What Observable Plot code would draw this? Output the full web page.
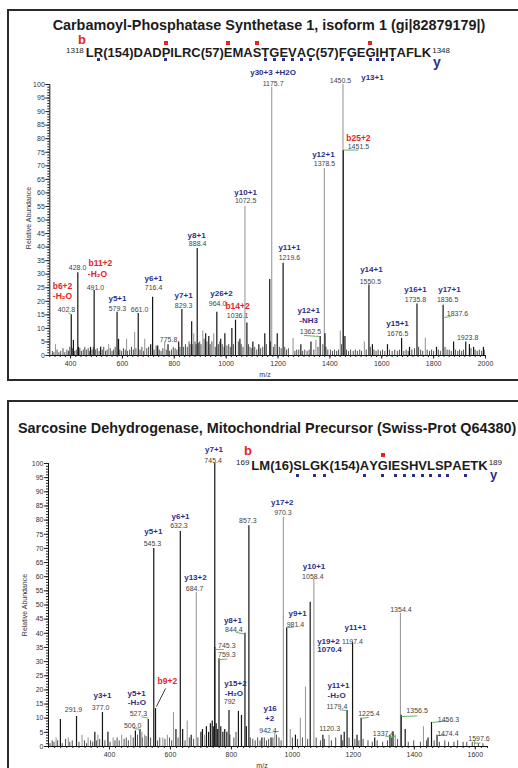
<!DOCTYPE html>
<html><head><meta charset="utf-8">
<script src="https://cdn.jsdelivr.net/npm/d3@7"></script>
<script src="https://cdn.jsdelivr.net/npm/@observablehq/plot@0.6"></script>
<style>
body{margin:0;background:#fff;width:518px;height:768px;overflow:hidden;position:relative;font-family:"Liberation Sans",Arial,sans-serif;}
.box{position:absolute;border:2px solid #2a2a2a;box-sizing:border-box;}
.abs{position:absolute;white-space:nowrap;}
.title{font-weight:bold;font-size:14.4px;line-height:14px;color:#1c1c1c;}
.seq{font-weight:bold;font-size:13px;line-height:9px;color:#1c1c1c;}
.sup{font-size:8px;font-weight:normal;position:relative;top:-4px;}
.m{position:relative;}
.sq{position:absolute;left:50%;width:4px;height:4px;margin-left:-2px;background:#e8231f;}
.dt{position:absolute;left:50%;width:3px;height:3px;margin-left:-1.5px;background:#2b2f8a;}
.ax{font-size:7px;color:#333;}
.rot{transform:translate(-50%,-50%) rotate(-90deg);}
.ion{font-weight:bold;line-height:1px;}
</style></head>
<body>
<div class="box" style="left:7px;top:9px;width:530px;height:372px;"></div>
<div class="box" style="left:7px;top:400px;width:530px;height:400px;"></div>
<script>
// ---------- Panel 1 data ----------
const topTitle = "Carbamoyl-Phosphatase Synthetase 1, isoform 1 (gi|82879179|)";
const topSeq = "LR(154)DADPILRC(57)EMASTGEVAC(57)FGEGIHTAFLK";
const topStart = "1318", topEnd = "1348";
const topSquares = [10, 19, 22, 36];
const topDots = [1, 10, 23, 24, 25, 26, 27, 28, 33, 34, 36, 37, 38, 39];
const topXTicks = [400, 600, 800, 1000, 1200, 1400, 1600, 1800, 2000];
const yTicks = [0,5,10,15,20,25,30,35,40,45,50,55,60,65,70,75,80,85,90,95,100];

const topDark = [[402.8,15],[411,5.5],[428.0,30.5],[431,3],[477,3],[491.0,24],[516,3],[579.3,16],[585,6],[661.0,15.5],[709,4],[716.4,21.5],[736,3.5],[775.8,4],[817,5],[829.3,17],[867,12.5],[888.4,39.5],[921,8],[933,7],[964.0,16],[979,6],[995,8],[1022,10],[1036.1,13],[1053,6],[1080,12],[1103,5],[1126,4],[1149,8],[1168,28],[1197,8],[1219.6,34],[1288,4],[1327,5],[1362.5,7],[1381,8],[1451.5,75.6],[1458,7],[1550.5,26],[1564,4],[1622,4],[1676.5,6.3],[1707,3],[1735.8,19],[1811,3],[1836.5,18.5],[1877,5],[1923.8,5],[1938,4],[1954,3],[1992,3]];
const topGrey = [[342,4],[547,4],[616,6],[647,8.5],[686,6],[763,5],[875,8],[910,9],[952,8],[1072.5,55],[1175.7,99],[1258,6.3],[1346,5.5],[1378.5,69],[1440,9],[1450.5,100],[1533,5],[1768,6.4]];
const topNoise = [[330,1.5],[336,1],[348,2],[355,1],[362,1.5],[371,2.5],[378,1],[386,2],[392,1.5],[397,3],[408,2.5],[416,1.5],[422,2],[436,2.5],[442,1.5],[449,2],[455,3],[461,2],[468,2.5],[474,1.5],[483,2],[488,3],[497,2],[503,2.5],[510,1.5],[522,2],[528,3],[535,1.5],[541,2],[553,2.5],[560,1.5],[566,2],[572,3],[590,2],[597,1.5],[604,2.5],[611,2],[620,1.5],[628,2],[635,3],[642,2],[652,2.5],[668,2],[675,3],[682,1.5],[694,2.5],[701,3],[722,2],[730,3.5],[742,2],[749,1.5],[756,2.5],[769,2],[782,1.5],[789,2],[796,3],[803,2.5],[810,2],[822,3],[836,3],[843,4],[850,3],[857,5],[861,4],[872,4],[880,5],[884,4],[893,4.5],[898,5],[903,4],[915,6],[926,5],[938,4],[945,5],[958,3],[970,4],[976,5],[985,4],[992,3],[1003,3.5],[1010,4],[1016,3],[1028,4],[1047,5],[1058,4],[1065,3],[1086,4],[1092,3],[1099,2.5],[1110,3],[1118,2],[1133,2.5],[1141,3],[1155,4],[1171,5],[1182,3],[1188,4],[1205,3],[1212,2.5],[1226,3],[1233,2],[1240,2.5],[1265,1.5],[1272,2],[1280,2],[1295,1.5],[1303,2],[1312,1.5],[1320,2],[1338,2],[1354,3],[1373,4],[1385,3],[1392,2],[1402,2],[1410,1.5],[1418,2],[1426,1.5],[1433,2],[1445,4],[1464,2],[1472,1.5],[1480,2],[1490,1.5],[1498,2],[1506,1.5],[1515,2],[1522,1.5],[1540,2],[1556,3],[1570,2],[1578,1.5],[1586,2],[1595,1.5],[1603,2],[1612,1.5],[1630,2],[1640,1.5],[1650,2],[1660,1.5],[1668,2],[1685,1.5],[1694,2],[1702,1.5],[1716,2],[1726,2.5],[1742,3],[1750,2],[1758,1.5],[1775,2],[1784,1.5],[1792,2],[1800,1.5],[1818,2],[1826,1.5],[1844,3],[1852,2],[1860,2],[1868,1.5],[1884,2],[1893,1.5],[1900,2],[1908,1.5],[1915,2],[1944,2.5],[1960,2],[1968,1.5],[1976,2],[1985,1.5],[1995,2]];

const topIon = [["y30+3 +H2O",1181,104.3],["y13+1",1564,102.6],["y10+1",1075,60.1],["y8+1",886,44.3],["y12+1",1375,74.2],["y11+1",1244,39.9],["y14+1",1560,31.7],["y16+1",1730,24.4],["y17+1",1861,24.4],["y12+1",1318,16.6],["-NH3",1318,12.9],["y15+1",1661,11.8],["y7+1",836,22.1],["y26+2",982,22.9],["y5+1",581,21],["y6+1",720,28.4]];
const topB = [["b25+2",1510,80.1],["b14+2",1044,18.1],["b11+2",515,33.9],["-H\u2082O",504,29.9],["b6+2",369,25.5],["-H\u2082O",369,21.8]];
const topMass = [["1175.7",1181,100.4],["1450.5",1441,101.5],["1072.5",1075,57.2],["888.4",890,41.3],["1451.5",1510,77.1],["1378.5",1379,70.8],["1219.6",1244,36.2],["1550.5",1556,27.3],["1735.8",1730,20.7],["1836.5",1854,20.7],["1837.6",1892,15.5],["1362.5",1325,8.9],["1676.5",1661,8.1],["1923.8",1931,6.6],["829.3",836,18.5],["964.0",967,19.2],["1036.1",1044,14.8],["775.8",778,5.9],["579.3",581,17.3],["661.0",666,17],["716.4",720,25.1],["491.0",496,25.1],["428.0",427,32.5],["402.8",384,17]];
const topLinks = [[392,15.8,403,15],[1451.5,75.8,1510,75.8],[1300,7.4,1362.5,7],[1838,14,1868,14.4]];

// ---------- Panel 2 data ----------
const botTitle = "Sarcosine Dehydrogenase, Mitochondrial Precursor (Swiss-Prot Q64380)";
const botSeq = "LM(16)SLGK(154)AYGIESHVLSPAETK";
const botStart = "169", botEnd = "189";
const botSquares = [17];
const botDots = [6, 8, 9, 15, 17, 19, 20, 21, 22, 23, 24, 25, 27];
const botXTicks = [400, 600, 800, 1000, 1200, 1400, 1600];

const botDark = [[239,9.5],[291.9,10.6],[352,5],[377.0,12],[395,5],[485,5.5],[500,6],[527.3,9.5],[545.3,70],[551,13.4],[618,6],[632.3,76],[640,6],[668,4],[700,5],[705,6],[718,7],[725,5],[731,8],[737,9],[742,7],[745.3,35],[745.4,100],[750,8],[755,6],[759.3,31],[765,7],[772,5],[778,6],[785,5],[792,12.7],[823,12.4],[833,11],[844.4,40],[849,7],[857.3,78],[900,3],[930,3],[981.4,42],[1010,4],[1058.4,51],[1100,4],[1160,4],[1170,5],[1179.4,12.7],[1197.4,36.7],[1212,4],[1225.4,10],[1270,3],[1320,4],[1330,5],[1357,11],[1370,6],[1445,3],[1456.3,8.5],[1474.4,4]];
const botGrey = [[225,3],[265,3],[310,4],[330,3],[362,4],[412,3],[440,4],[470,4],[506.0,5],[515,4],[575,3],[590,4],[610,12],[655,9],[684.7,54.5],[712,4],[942.4,5],[970.3,81],[993,6],[1026,10],[1043,21],[1070.4,59],[1120.3,4],[1337.4,4],[1354.4,47],[1430,7],[1597.6,2]];
const botNoise = [[205,1],[212,2],[218,1.5],[230,2],[245,1],[256,2.5],[270,1.5],[278,2],[300,1.5],[318,2],[325,1],[338,2],[345,1.5],[358,2],[368,2.5],[385,2],[402,1.5],[418,2],[425,3],[432,2],[448,2.5],[455,3],[462,2],[478,3],[492,4],[508,3],[520,3.5],[535,3],[558,2],[565,3],[582,2.5],[597,3],[604,2],[625,3],[648,2],[662,3],[676,2.5],[690,3],[795,4],[808,3],[815,5],[862,3],[870,2.5],[878,2],[886,3],[894,2],[908,3],[915,2],[922,2.5],[936,3],[948,4],[956,3],[963,2],[1000,3],[1017,2.5],[1033,3],[1050,2.5],[1078,3],[1092,2],[1105,2.5],[1128,2],[1142,3],[1165,2],[1186,3],[1205,2.5],[1218,2],[1232,2.5],[1248,2],[1262,1.5],[1278,2],[1296,1.5],[1312,2],[1325,3],[1345,2.5],[1380,1.5],[1398,2],[1420,1.5],[1440,2],[1465,2],[1482,1.5],[1500,2],[1512,1.5],[1530,1.5],[1542,2],[1560,1.5],[1572,1.5],[1590,1.5],[1610,1],[1625,1]];

const botIon = [["y7+1",743,105],["y6+1",633,81.3],["y5+1",544,76],["y13+2",682,59.7],["y8+1",805,44.5],["y17+2",967,86.2],["y10+1",1071,63.6],["y9+1",1017,47],["y11+1",1207,42],["y19+2",1118,37.1],["1070.4",1122,34.3],["y11+1",1151,21.6],["-H\u2082O",1145,18],["y16",927,13.4],["+2",925,9.9],["y15+2",813,22.3],["-H\u2082O",808,18.7],["y5+1",489,18.7],["-H\u2082O",490,15.5],["y3+1",377,18]];
const botB = [["b9+2",590,23]];
const botMass = [["745.4",740,101.1],["632.3",628,78.1],["545.3",541,71.7],["857.3",854,79.9],["684.7",679,55.8],["844.4",808,41.3],["970.3",969,82.7],["1058.4",1067,60],["1354.4",1356,48.4],["981.4",1010,43.1],["1197.4",1197,37.1],["1179.4",1146,14.1],["1225.4",1251,11.7],["1120.3",1122,6.4],["1337.4",1299,4.6],["1356.5",1409,12.5],["1456.3",1512,9.5],["1474.4",1510,4.6],["1597.6",1612,2.8],["942.4",920,5.7],["792",794,15.9],["745.3",785,35.7],["759.3",785,32.5],["527.3",495,11.7],["506.0",476,7.4],["377.0",371,13.8],["291.9",282,13.1]];
const botLinks = [[815,40.3,843,39.8],[745.4,34.3,775,34.3],[759.3,30.7,787,30.9],[982,42,1005,42.2],[505,10.5,527,10],[478,6.4,502,6],[1155,13,1179.4,12.7],[1227,10,1250,10.3],[1305,3.6,1337.4,3.6],[1357,10.6,1410,10.8],[1459,8.5,1510,9],[1476,3.9,1505,3.9],[1595,1.2,1617,1.2],[942.4,5.3,955,5.3]];
const botPointer = [[584,20.5,554,14.1]];

// ---------- helpers ----------
const FONT = "Liberation Sans, Arial, sans-serif";
const BLUE = "#2b2f8a", RED = "#e8231f", GREEN = "#5aa85a";

function spectrum(o) {
  const px = d => d[0], pv = d => d[1];
  return Plot.plot({
    width: 518, height: o.height,
    marginLeft: o.ml, marginRight: o.mr, marginTop: o.mt, marginBottom: o.mb,
    x: {domain: o.xdom}, y: {domain: [0, 100]},
    style: {background: "none", overflow: "visible", fontFamily: FONT, fontSize: "7px", color: "#222"},
    marks: [
      Plot.ruleX(o.noise, {x: px, y1: 0, y2: pv, stroke: "#222", strokeWidth: 0.8}),
      Plot.ruleX(o.grey, {x: px, y1: 0, y2: pv, stroke: "#9a9a9a", strokeWidth: 1.1}),
      Plot.ruleX(o.dark, {x: px, y1: 0, y2: pv, stroke: "#151515", strokeWidth: 1.2}),
      Plot.link(o.links, {x1: d => d[0], y1: d => d[1], x2: d => d[2], y2: d => d[3], stroke: GREEN, strokeWidth: 0.9}),
      Plot.link(o.pointer || [], {x1: d => d[0], y1: d => d[1], x2: d => d[2], y2: d => d[3], stroke: "#222", strokeWidth: 0.9}),
      Plot.ruleY([0], {x1: o.xdom[0], x2: o.xdom[1], stroke: "#111"}),
      Plot.ruleX([o.xdom[0]], {y1: 0, y2: 100, stroke: "#111"}),
      Plot.axisY(d3.range(0, 101, 1), {tickSize: 2, tickFormat: () => "", label: null, stroke: "#222"}),
      Plot.axisY(yTicks, {tickSize: 4, tickPadding: 1, label: null, fontSize: 7, tickFormat: d => String(d), stroke: "#222", fill: "#333"}),
      Plot.axisX(d3.range(o.xdom[0], o.xdom[1] + 1, 20), {tickSize: 2, tickFormat: () => "", label: null, stroke: "#222"}),
      Plot.axisX(o.xticks, {tickSize: 3.5, tickPadding: 2, label: null, fontSize: 7, tickFormat: d => String(d), stroke: "#222", fill: "#333"}),
      Plot.text(o.mass, {x: d => d[1], y: d => d[2], text: d => d[0], fill: "#444", fontSize: 7, fontFamily: FONT}),
      Plot.text(o.ion, {x: d => d[1], y: d => d[2], text: d => d[0], fill: BLUE, fontSize: 8, fontWeight: "bold", fontFamily: FONT}),
      Plot.text(o.b, {x: d => d[1], y: d => d[2], text: d => d[0], fill: RED, fontSize: 8.5, fontWeight: "bold", fontFamily: FONT})
    ]
  });
}

function seqHTML(start, seq, end, squares, dots, sqTop, dtTop, supTop) {
  let h = `<span class="sup" style="margin-right:2px;top:${supTop}px">${start}</span>`;
  [...seq].forEach((c, i) => {
    const s = squares.includes(i), d = dots.includes(i);
    if (s || d) {
      h += `<span class="m">${c}` +
        (s ? `<i class="sq" style="top:${sqTop}px"></i>` : "") +
        (d ? `<i class="dt" style="top:${dtTop}px"></i>` : "") + `</span>`;
    } else h += c;
  });
  h += `<span class="sup" style="margin-left:1px;top:${supTop}px">${end}</span>`;
  return h;
}

function add(html, style, cls) {
  const el = document.createElement("div");
  el.className = "abs " + (cls || "");
  el.setAttribute("style", style);
  el.innerHTML = html;
  document.body.appendChild(el);
  return el;
}

// ---------- Panel 1 ----------
const p1 = spectrum({height: 380, ml: 49.3, mr: 33, mt: 84, mb: 25, xdom: [320, 2000], xticks: topXTicks,
  noise: topNoise, grey: topGrey, dark: topDark, links: topLinks, mass: topMass, ion: topIon, b: topB});
p1.style.position = "absolute"; p1.style.left = "0px"; p1.style.top = "0px";
document.body.appendChild(p1);

add(topTitle, "left:269px;top:18px;transform:translateX(-50%);", "title");
add(seqHTML(topStart, topSeq, topEnd, topSquares, topDots, -4, 13.5, -3.5), "left:66px;top:47.6px;", "seq");
add("b", `left:78px;top:38.7px;font-size:13px;color:${RED};`, "ion");
add("y", `left:433px;top:62.2px;font-size:14px;color:${BLUE};`, "ion");
add("Relative Abundance", "left:28px;top:218px;", "ax rot");
add("m/z", "left:265px;top:374px;transform:translate(-50%,-50%);", "ax");

// ---------- Panel 2 ----------
const p2 = spectrum({height: 368, ml: 48, mr: 31, mt: 63, mb: 22, xdom: [200, 1640], xticks: botXTicks,
  noise: botNoise, grey: botGrey, dark: botDark, links: botLinks, pointer: botPointer, mass: botMass, ion: botIon, b: botB});
p2.style.position = "absolute"; p2.style.left = "0px"; p2.style.top = "400px";
document.body.appendChild(p2);

add(botTitle, "left:18px;top:421px;", "title");
add(seqHTML(botStart, botSeq, botEnd, botSquares, botDots, -5, 16.5, -5), "left:236px;top:460.6px;", "seq");
add("b", `left:244px;top:450.2px;font-size:13px;color:${RED};`, "ion");
add("y", `left:490px;top:473.5px;font-size:13px;color:${BLUE};`, "ion");
add("Relative Abundance", "left:24px;top:605px;", "ax rot");
add("m/z", "left:262px;top:765px;transform:translate(-50%,-50%);", "ax");
</script>
</body></html>
